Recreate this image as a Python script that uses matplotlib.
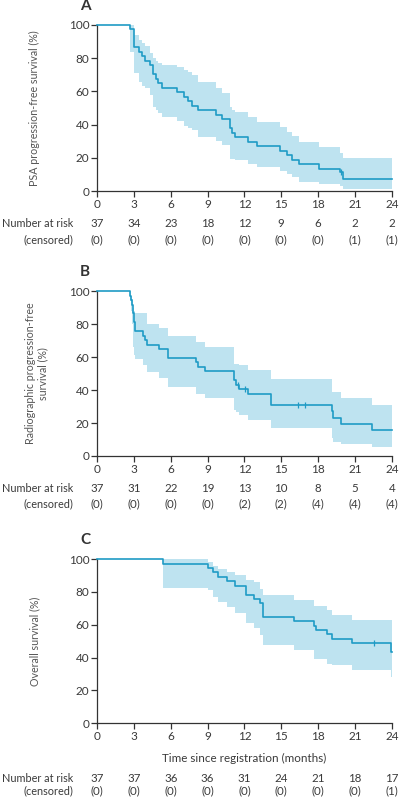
import numpy as np
import matplotlib
matplotlib.use('Agg')
import matplotlib.pyplot as plt
import matplotlib.transforms as mtransforms

plt.rcParams['font.family'] = ['Lato', 'DejaVu Sans']
plt.rcParams['text.color'] = '#3a3a3a'
plt.rcParams['axes.labelcolor'] = '#4a4a4a'
plt.rcParams['xtick.color'] = '#333333'
plt.rcParams['ytick.color'] = '#333333'
plt.rcParams['xtick.labelcolor'] = '#3a3a3a'
plt.rcParams['ytick.labelcolor'] = '#3a3a3a'

LINE = '#1f9bc5'
FILL = '#bee3f0'
FS = 8.3

# x-axis ticks / risk table columns
tick_months = [0, 3, 6, 9, 12, 15, 18, 21, 24]

# ---- Panel A: PSA progression-free survival ----
psa_t = [0, 2.68, 3.04, 3.42, 3.69, 3.9, 4.3, 4.6, 4.8, 5.0, 5.26, 6.48, 7.1, 7.45, 7.7,
         8.24, 9.66, 10.15, 10.82, 11.0, 11.2, 12.3, 13.04, 14.9, 15.43, 15.84, 16.46,
         18.09, 19.77, 20.04, 24]
psa_s = [100, 97.3, 86.5, 83.8, 81.1, 78.4, 75.7, 70.3, 67.6, 64.9, 62.2, 59.5, 56.8, 54.1, 51.4,
         48.6, 45.9, 43.2, 37.8, 35.1, 32.4, 29.7, 27.0, 24.3, 21.6, 18.9, 16.2,
         13.5, 11.3, 7.5, 7.5]
psa_hi = [100, 100, 94, 91, 89, 87, 83, 80, 78, 77, 75.9, 74.9, 72.9, 71.5, 69.9,
          65.8, 61.9, 58.9, 50.4, 49, 47.8, 44.8, 41.8, 38.7, 35.7, 33.1, 29.7,
          26.7, 23, 19.7, 19.7]
psa_lo = [100, 83.5, 70.9, 65.8, 63.5, 61.9, 57.8, 50.8, 49, 47, 44.8, 42.2, 39.2, 38, 36.7,
          32.7, 30.3, 27.7, 19.1, 19.1, 18.7, 16.3, 14.7, 12.2, 10.2, 8.6, 5.6,
          4.6, 3, 1.6, 1.6]
psa_cens_t = [19.9]
psa_cens_s = [11.3]
psa_risk = ['37', '34', '23', '18', '12', '9', '6', '2', '2']
psa_cens = ['(0)', '(0)', '(0)', '(0)', '(0)', '(0)', '(0)', '(1)', '(1)']

# ---- Panel B: radiographic progression-free survival ----
rad_t = [0, 2.68, 2.78, 2.86, 2.92, 2.97, 3.02, 3.09, 3.72, 3.9, 4.1, 5.03, 5.75, 8.03,
         8.24, 8.79, 11.17, 11.28, 11.55, 12.3, 14.13, 14.2, 19.1, 19.24, 19.9, 22.35, 24]
rad_s = [100, 97.3, 94.6, 91.9, 89.2, 86.5, 81.1, 75.7, 73.0, 70.3, 67.6, 64.9, 59.5, 56.8,
         54.1, 51.4, 46.0, 43.2, 40.5, 37.5, 34.4, 31.2, 27.1, 23.3, 19.5, 15.6, 15.6]
rad_hi = [100, 100, 97, 95, 92, 90, 88, 86.5, 86.5, 86.5, 80.2, 77.5, 73, 69,
          69, 66, 56, 56, 55.5, 52.4, 46.5, 46.5, 39, 39, 35, 31, 31]
rad_lo = [100, 94, 88, 80, 72, 66, 61, 58.7, 55, 55, 51, 47.4, 42, 37.5,
          37.5, 35, 28, 27, 24.7, 21.7, 17, 17, 10.7, 8.5, 7.5, 5.5, 5.5]
rad_cens_t = [11.45, 12.04, 16.4, 16.95]
rad_cens_s = [43.2, 40.5, 31.2, 31.2]
rad_risk = ['37', '31', '22', '19', '13', '10', '8', '5', '4']
rad_cens = ['(0)', '(0)', '(0)', '(0)', '(2)', '(2)', '(4)', '(4)', '(4)']

# ---- Panel C: overall survival ----
os_t = [0, 5.4, 9.06, 9.47, 9.88, 10.6, 11.23, 12.1, 12.8, 13.26, 13.48, 16.05, 17.68,
        17.8, 18.69, 19.1, 20.78, 23.95, 24]
os_s = [100, 97.3, 94.6, 91.9, 89.2, 86.5, 83.8, 78.4, 75.7, 73.0, 64.9, 62.2, 59.5,
        56.8, 54.1, 51.4, 48.6, 43.2, 43.2]
os_hi = [100, 100, 98, 96, 94, 92, 90.2, 87.2, 86, 82, 78, 75, 71.5,
         71.5, 68.9, 65.9, 63.2, 63.2, 63.2]
os_lo = [100, 82.5, 81.1, 77, 74, 70.9, 67.5, 61, 58, 54, 47.6, 44.5, 39.4,
         39.4, 36.4, 35.4, 32.3, 28, 28]
os_cens_t = [22.57]
os_cens_s = [48.6]
os_risk = ['37', '37', '36', '36', '31', '24', '21', '18', '17']
os_cens = ['(0)', '(0)', '(0)', '(0)', '(0)', '(0)', '(0)', '(0)', '(1)']

fig = plt.figure(figsize=(3.99, 8), dpi=100)

panels = [
    ('A', [0.243, 0.761, 0.739, 0.208], psa_t, psa_s, psa_lo, psa_hi, psa_cens_t, psa_cens_s,
     'PSA progression-free survival (%)', -0.193, psa_risk, psa_cens, 0.721, 0.700, 0.992),
    ('B', [0.243, 0.430, 0.739, 0.206], rad_t, rad_s, rad_lo, rad_hi, rad_cens_t, rad_cens_s,
     'Radiographic progression-free\nsurvival (%)', -0.165, rad_risk, rad_cens, 0.389, 0.370, 0.660),
    ('C', [0.243, 0.096, 0.739, 0.205], os_t, os_s, os_lo, os_hi, os_cens_t, os_cens_s,
     'Overall survival (%)', -0.193, os_risk, os_cens, 0.027, 0.011, 0.325),
]

for (letter, pos, t, s, lo, hi, ct, cs, ylab, ylx, risk, cens, ry, cy, ly) in panels:
    ax = fig.add_axes(pos)
    ax.fill_between(t, lo, hi, step='post', color=FILL, linewidth=0)
    ax.step(t, s, where='post', color=LINE, lw=1.2, clip_on=False, zorder=3)
    ax.plot(ct, cs, linestyle='none', marker='|', ms=5, mew=0.9, color=LINE, zorder=4)
    ax.set_xlim(0, 24)
    ax.set_ylim(0, 100)
    ax.set_xticks(tick_months)
    ax.set_yticks([0, 20, 40, 60, 80, 100])
    for side in ['top', 'right']:
        ax.spines[side].set_visible(False)
    for side in ['left', 'bottom']:
        ax.spines[side].set_color('#333333')
        ax.spines[side].set_linewidth(0.9)
    ax.tick_params(axis='both', labelsize=FS + 0.2, length=4, width=0.9, pad=1.5)
    ax.set_ylabel(ylab, fontsize=7.7, color='#555555', linespacing=1.1)
    ax.yaxis.set_label_coords(ylx, 0.5)

    fig.text(0.213, ly, letter, fontsize=11, fontweight='bold', ha='center', va='center',
             color='#333333')

    trans = mtransforms.blended_transform_factory(ax.transData, fig.transFigure)
    fig.text(0.183, ry, 'Number at risk', fontsize=7.8, ha='right', va='center')
    fig.text(0.183, cy, '(censored)', fontsize=7.8, ha='right', va='center')
    for m, r, c in zip(tick_months, risk, cens):
        ax.text(m, ry, r, transform=trans, fontsize=FS, ha='center', va='center')
        ax.text(m, cy, c, transform=trans, fontsize=FS, ha='center', va='center')

    if letter == 'C':
        fig.text(0.613, 0.052, 'Time since registration (months)', fontsize=FS + 0.1,
                 ha='center', va='center')

fig.savefig('out.png', dpi=100)
